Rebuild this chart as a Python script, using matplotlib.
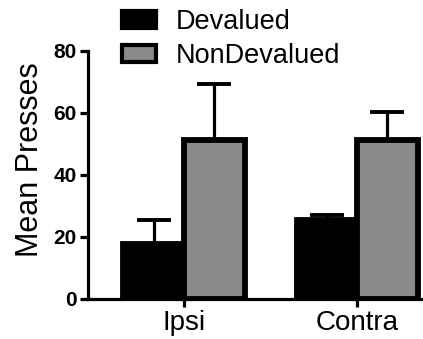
import matplotlib
matplotlib.use("Agg")
import matplotlib.pyplot as plt
import numpy as np

categories = ["Ipsi", "Contra"]
series_names = ["Devalued", "NonDevalued"]
devalued = [17.6, 25.4]
devalued_err = [8.0, 1.7]
nondevalued = [51.3, 51.3]
nondevalued_err = [18.1, 9.0]
yticks = [0, 20, 40, 60, 80]

plt.rcParams['font.family'] = ['Liberation Sans', 'DejaVu Sans']

fig = plt.figure(figsize=(4.23, 3.39), dpi=100)
ax = fig.add_axes([88/423, 1-299/339, (422-88)/423, 248/339])

x = np.arange(len(categories))
w = 0.35
lw = 4.2
ax.bar(x - w/2, devalued, w, color='black', edgecolor='black', linewidth=lw,
       label=series_names[0], zorder=3)
ax.bar(x + w/2, nondevalued, w, color='#8a8a8a', edgecolor='black', linewidth=lw,
       label=series_names[1], zorder=3)
ax.errorbar(x - w/2, devalued, yerr=[np.zeros(2), devalued_err], fmt='none',
            ecolor='black', elinewidth=2.3, capsize=12, capthick=2.8, zorder=2)
ax.errorbar(x + w/2, nondevalued, yerr=[np.zeros(2), nondevalued_err], fmt='none',
            ecolor='black', elinewidth=2.3, capsize=12, capthick=2.8, zorder=2)

ax.set_xlim(-0.555, 1.375)
ax.set_ylim(0, 80)
ax.set_yticks(yticks)
ax.set_yticklabels([str(t) for t in yticks], fontsize=15, fontweight='bold')
ax.set_xticks(x)
ax.set_xticklabels(categories, fontsize=20)
ax.set_ylabel("Mean Presses", fontsize=22)
ax.yaxis.set_label_coords(-0.128, 0.56)
for s in ['top', 'right']:
    ax.spines[s].set_visible(False)
for s in ['left', 'bottom']:
    ax.spines[s].set_linewidth(2.3)
ax.tick_params(axis='both', width=2.3, length=6, pad=2)
ax.spines['left'].set_bounds(0, 80)

leg = fig.legend(loc='upper left', bbox_to_anchor=(122/423, 1 - 9/339), frameon=False,
                 fontsize=19.5, handlelength=1.25, handleheight=0.55, labelspacing=0.3,
                 handletextpad=0.75, borderpad=0, borderaxespad=0)
for h in leg.legend_handles:
    h.set_linewidth(3.0)

fig.savefig("out.png", dpi=100)
